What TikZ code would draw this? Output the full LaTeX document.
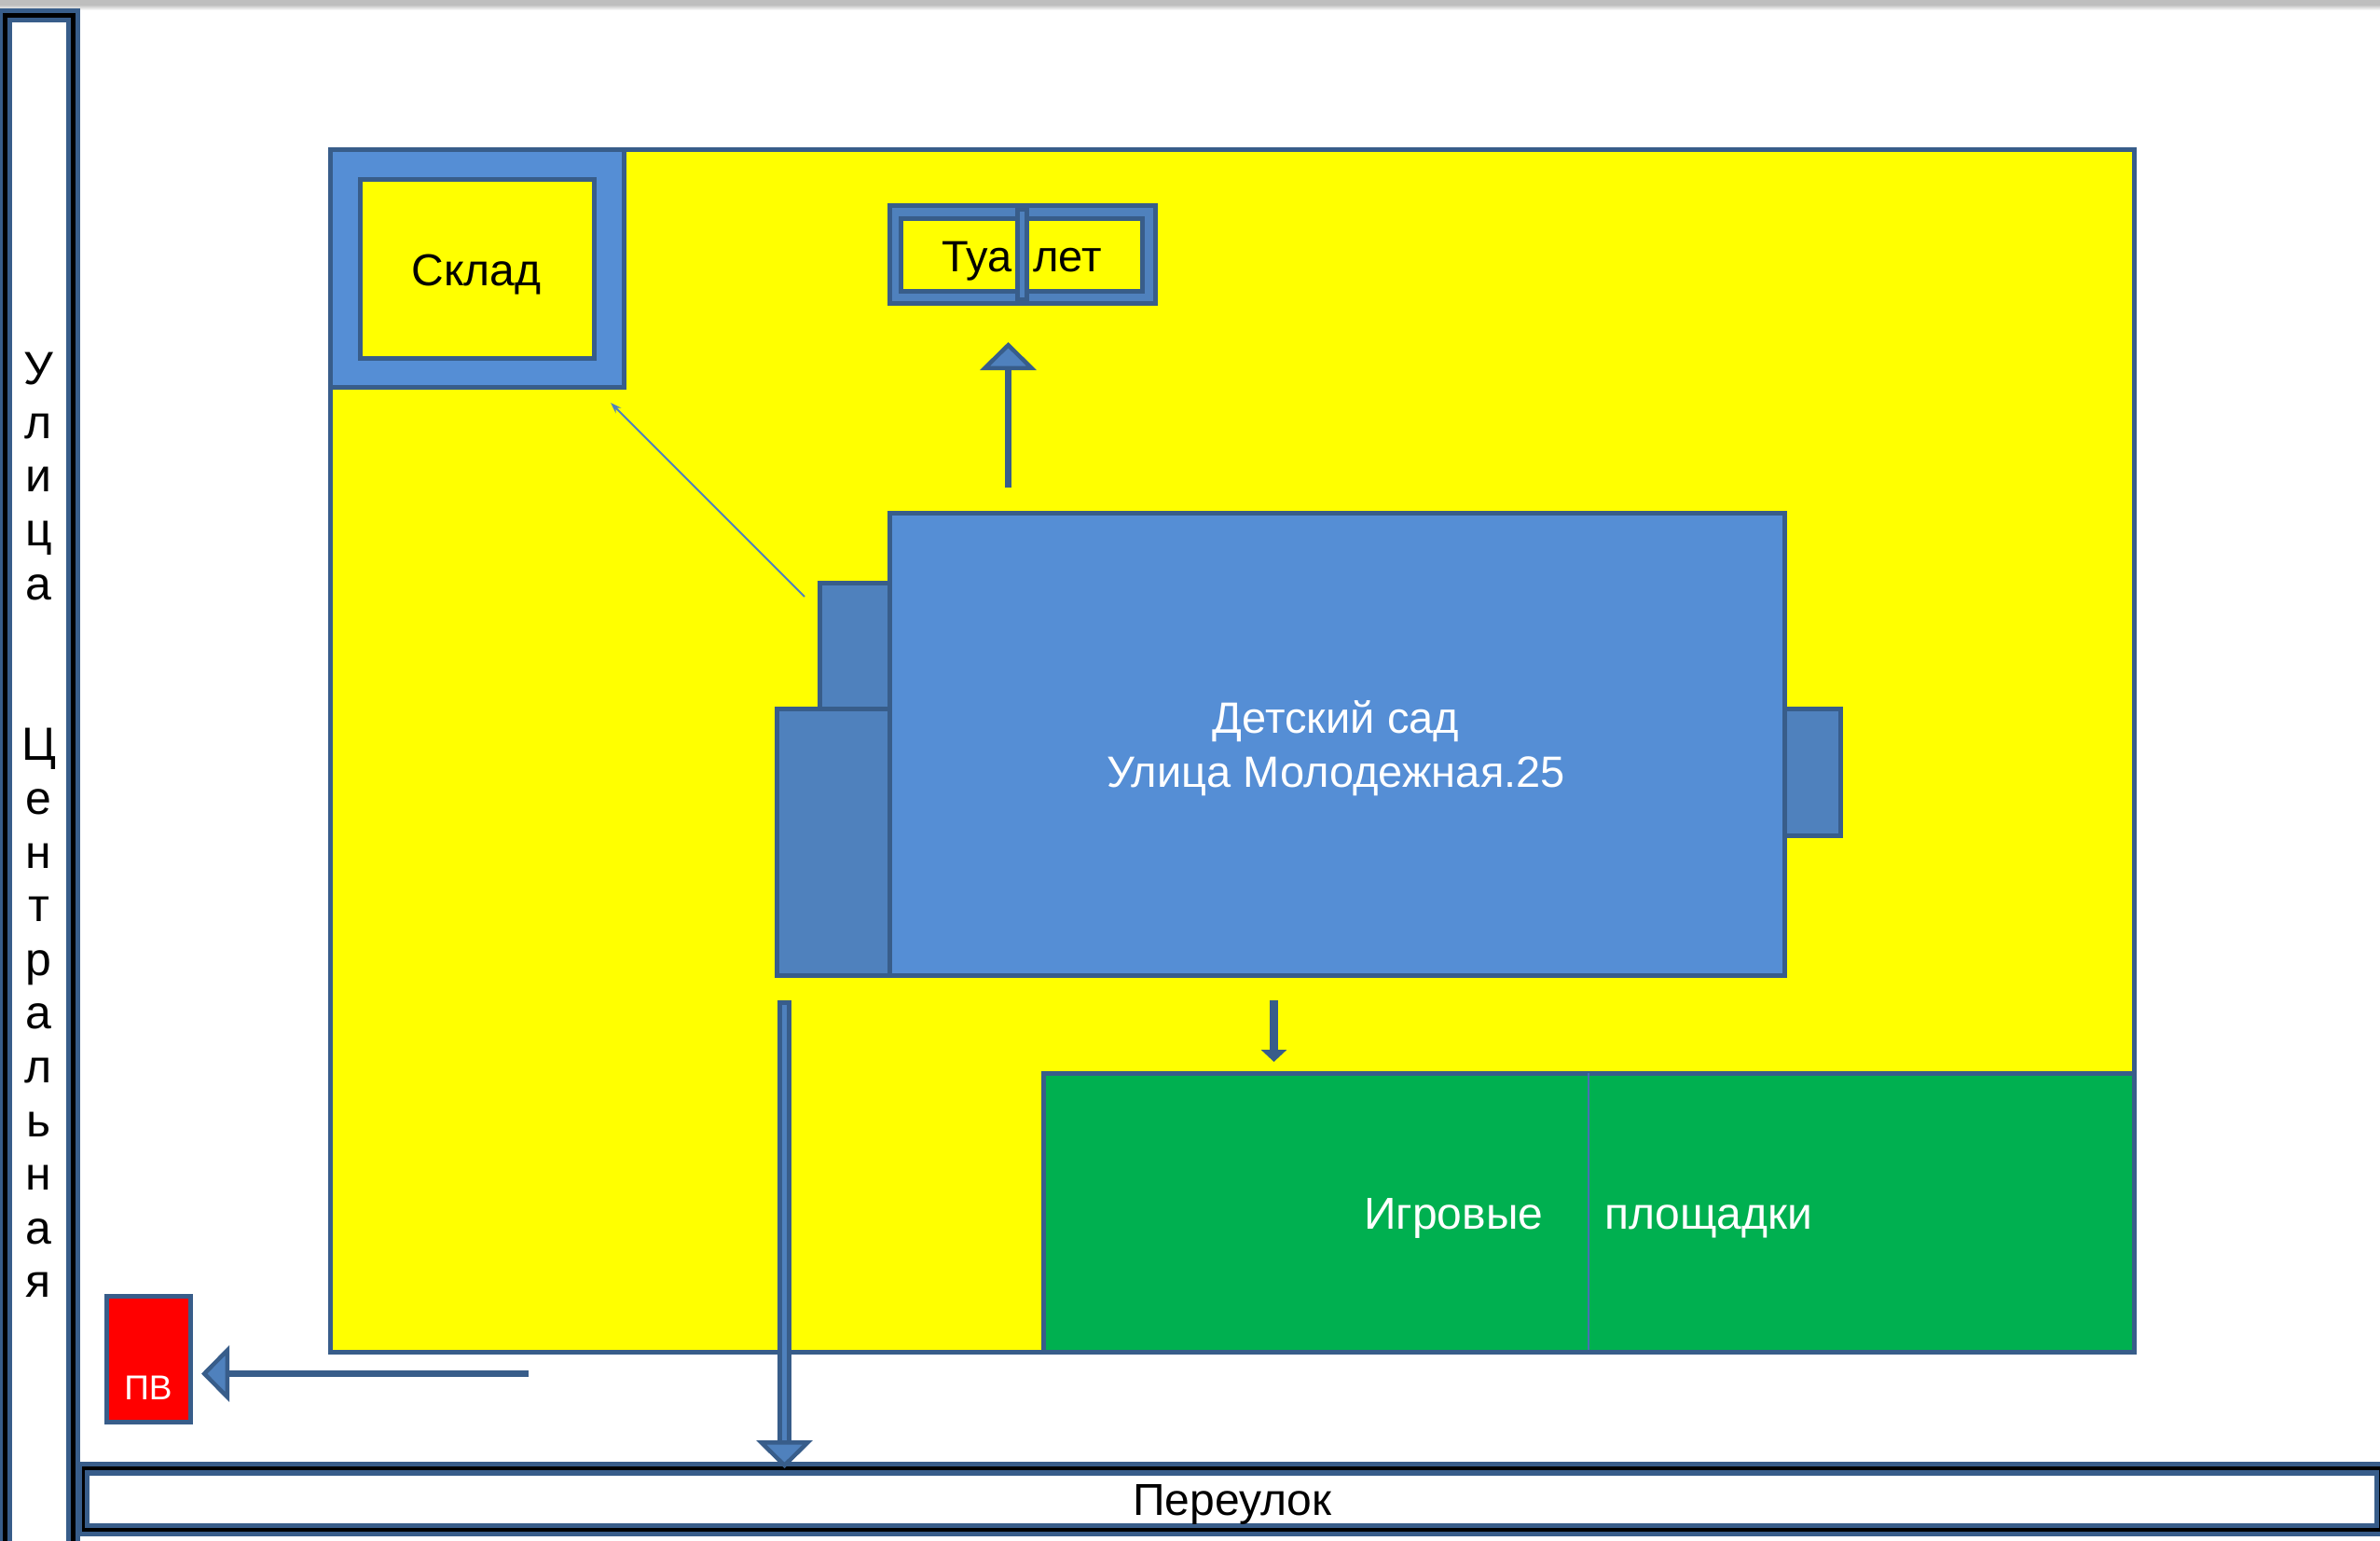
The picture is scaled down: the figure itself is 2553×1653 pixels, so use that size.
\documentclass[tikz,border=0pt]{standalone}
\usepackage{fontspec}
\setmainfont{Liberation Sans}
\usetikzlibrary{arrows.meta,positioning}
\definecolor{edgeblue}{RGB}{56,93,138}
\definecolor{midblue}{RGB}{79,129,189}
\definecolor{lightblue}{RGB}{85,142,213}
\definecolor{grass}{RGB}{0,176,80}
\definecolor{barline}{RGB}{190,190,190}
\definecolor{thinline}{RGB}{74,111,181}
\definecolor{pureyellow}{RGB}{255,255,0}
\definecolor{purered}{RGB}{255,0,0}
\tikzset{
  px/.style={x=1pt,y=-1pt},
  room/.style={draw=edgeblue,line width=5pt},
  label/.style={inner sep=0pt,font=\fontsize{48}{48}\selectfont,align=center},
  whitelabel/.style={label,text=white},
  shaft/.style={draw=edgeblue,line width=7pt},
  bigtip/.style={-{Triangle[width=#1,length=30pt,fill=midblue,color=edgeblue,line width=4.5pt]}},
}
\begin{document}
\begin{tikzpicture}[px]
\useasboundingbox (0,0) rectangle (2553,1653);
\fill[white] (0,0) rectangle (2553,1653);
% top bar
\shade[top color=barline,bottom color=white] (0,5) rectangle (2553,11);
\fill[barline] (0,0) rectangle (2553,6);
% left road
\fill[edgeblue] (-5,9) rectangle (86,1660);
\fill[black] (3,14) rectangle (81,1660);
\fill[edgeblue] (8,19) rectangle (76,1660);
\fill[white] (13,24) rectangle (71,1660);
\node[label,anchor=north,font=\fontsize{50}{57.6}\selectfont] (streetname) at (41.5,378) {У\\л\\и\\ц\\а\\ \\ \\Ц\\е\\н\\т\\р\\а\\л\\ь\\н\\а\\я};
% bottom road
\fill[edgeblue] (86,1568) rectangle (2560,1648);
\fill[black] (88,1573) rectangle (2553,1643);
\fill[edgeblue] (91,1577) rectangle (2552,1639);
\fill[white] (96,1583) rectangle (2547,1634);
\node[label] (lane) at (1322,1614) {Переулок};
% yard
\draw[room,fill=pureyellow] (354,160.5) rectangle (2289.5,1450.5);
\draw[room,fill=lightblue] (354,160.5) rectangle (669,415.5);
\draw[room,fill=pureyellow] (386,192.5) rectangle (637,384.5);
\node[label,anchor=base] (store) at (511,306) {Склад};
% toilet
\draw[room,fill=midblue] (954.5,220.5) rectangle (1239.5,325.5);
\draw[room,fill=pureyellow] (966.5,234.5) rectangle (1225.5,312.5);
\node[label,anchor=base,font=\fontsize{47}{47}\selectfont] (toilet) at (1096,291) {Туа\hspace{10pt} лет};
\draw[room,fill=midblue] (1091.5,225) rectangle (1101.5,321);
% building
\draw[room,fill=midblue] (879,625.7) rectangle (954,760.7);
\draw[room,fill=midblue] (833.7,760.7) rectangle (954,1046);
\draw[room,fill=midblue] (1914,760.7) rectangle (1974,896);
\draw[room,fill=lightblue] (954,550.7) rectangle (1914,1046);
\node[whitelabel,font=\fontsize{47}{58}\selectfont] (school) at (1433,803) {Детский сад\\Улица Молодежная.25};
% playground
\draw[room,fill=grass] (1119,1151) rectangle (2289.5,1450.5);
\draw[thinline,line width=1.8pt] (1704,1151) -- (1704,1448);
\node[whitelabel,anchor=base west] (play1) at (1463,1318) {Игровые};
\node[whitelabel,anchor=base west] (play2) at (1721,1318) {площадки};
% red box
\node[draw=edgeblue,line width=5pt,fill=purered,outer sep=0pt,inner sep=0pt,minimum width=90pt,minimum height=135pt] (pv) at (159.25,1458) {};
\node[inner sep=0pt,text=white,anchor=base,font=\fontsize{37}{37}\selectfont] (pvtext) at (159,1501) {ПВ};
% connectors
\coordinate (a1) at (1081.5,523);
\coordinate (a1end) at (1081.5,367);
\draw[shaft,bigtip=60pt] (a1) -- (a1end);
\coordinate (a2) at (567,1473.5);
\coordinate (a2end) at (216,1473.5);
\draw[shaft,bigtip=60pt] (a2) -- (a2end);
\coordinate (a3) at (841.5,1073);
\coordinate (a3end) at (841.5,1575);
\coordinate (a3mid) at (841.5,1552);
\draw[edgeblue,line width=15pt] (a3) -- (a3mid);
\draw[midblue,line width=5pt] (841.5,1078) -- (a3mid);
\draw[edgeblue,line width=15pt,bigtip=60pt] (a3mid) -- (a3end);
\coordinate (a4) at (1366.5,1073);
\coordinate (a4end) at (1366.5,1139);
\draw[edgeblue,line width=9pt,-{Triangle[width=27pt,length=13pt]}] (a4) -- (a4end);
\coordinate (a5) at (863,640);
\coordinate (a5end) at (655,432);
\draw[midblue,line width=1.8pt,-{Stealth[length=12pt,width=8pt]}] (a5) -- (a5end);
\end{tikzpicture}
\end{document}
